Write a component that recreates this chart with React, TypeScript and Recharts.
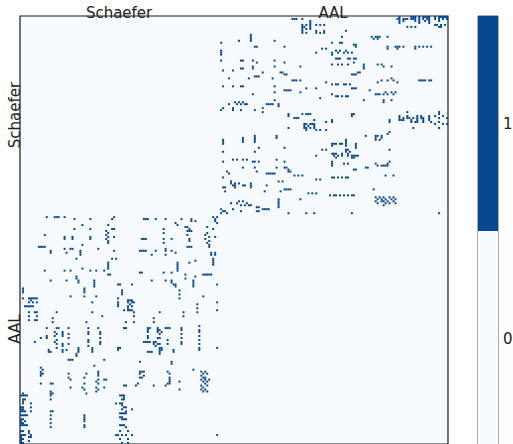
import {
  ScatterChart,
  Scatter,
  XAxis,
  YAxis,
  CartesianGrid,
  ReferenceArea,
  BarChart,
  Bar,
} from "recharts";

const SCHAEFER_N = 100;
const AAL_N = 116;
const N = SCHAEFER_N + AAL_N;

const blockLabels = ["Schaefer", "AAL"];
const blockCenters = [SCHAEFER_N / 2, SCHAEFER_N + AAL_N / 2];
const colorbarLevels = [0, 1];

// Schaefer parcel index -> AAL region indices it is linked to (0-based)
const schaeferLinks: [number, number[]][] = [
  [0, [91, 97, 98, 99, 101, 103, 104, 105, 106, 109, 111, 112, 113, 114, 115]],
  [1, [37, 38, 39, 42, 90, 91, 93, 94, 95, 97, 98, 99, 101, 103, 105, 106, 109, 111, 113, 115]],
  [2, [46, 91, 93, 99, 101, 104, 106, 111]],
  [3, [46, 91, 101, 106]],
  [4, [42, 44, 46, 49, 51, 53, 109, 110, 112, 114]],
  [5, [42, 43, 46, 95, 97, 99, 111, 112]],
  [6, [42, 44, 46]],
  [7, [42, 49, 53, 64]],
  [8, [42, 44, 49, 51, 53]],
  [9, [16]],
  [10, [16, 62, 77, 79, 80, 81, 85]],
  [11, [16, 78, 80]],
  [12, [10, 16, 28]],
  [13, [1, 57, 61, 62]],
  [14, [68, 69]],
  [15, [18, 19, 33, 69, 85, 89, 90, 91, 93, 99, 101, 103, 105, 107]],
  [16, [52, 54, 85, 90, 99]],
  [17, [1, 59, 61, 64]],
  [18, [1, 49, 57, 60, 63, 65, 67]],
  [19, [1, 57]],
  [21, [59, 60, 61, 65, 66, 68, 69]],
  [22, [1, 11, 12, 17, 28]],
  [23, [19, 33, 68]],
  [24, [57, 60, 62, 65, 73, 80, 82]],
  [25, [17, 28, 41, 73, 83, 87]],
  [26, [11, 12, 17, 73]],
  [27, [2, 7]],
  [28, [22, 31, 32, 70, 71]],
  [29, [33, 34, 67, 68, 69]],
  [30, [18, 19, 20]],
  [31, [5, 15, 27, 87]],
  [32, [37, 38, 39, 41, 82, 85, 88, 101, 102, 103, 104, 106, 107]],
  [33, [54, 80, 90]],
  [34, [57, 59, 60, 63, 64, 66]],
  [35, [2, 7, 11, 12, 28]],
  [36, [44, 49, 67, 68, 69]],
  [37, [33, 34, 35, 36, 76]],
  [38, [28, 41, 84, 87, 89]],
  [39, [17, 57, 79, 80, 81, 83, 85, 88]],
  [40, [59, 60, 62, 64, 65]],
  [41, [51]],
  [42, [28, 73, 83, 87]],
  [43, [8, 10, 12, 83]],
  [44, [5, 9, 11, 13, 14, 24, 25, 26, 27, 30]],
  [45, [30]],
  [46, [2, 7, 22]],
  [47, [1, 7, 11, 18]],
  [48, [22, 95, 111]],
  [49, [35, 42, 44, 45, 46, 67, 68, 111]],
  [50, [35, 67, 91, 95, 100, 102, 106, 109, 113]],
  [51, [38, 39, 40, 91, 93, 95, 96, 98, 100, 102, 103, 106, 111, 115]],
  [52, [48, 57, 86, 91, 92, 93, 97, 100, 103, 106]],
  [53, [54, 57, 86, 97, 99, 100, 103, 107, 111]],
  [54, [43, 44, 46, 47, 48, 109, 113, 115]],
  [55, [43, 45, 48]],
  [56, [35, 43, 44, 46, 48, 98, 111]],
  [57, [44, 49, 51, 54]],
  [58, [86]],
  [59, [85]],
  [60, [18, 29, 74, 79, 80, 82]],
  [61, [12, 18, 29, 79, 82]],
  [62, [2, 12, 18, 64, 79, 81]],
  [63, [2, 12, 18, 64]],
  [64, [2, 57, 58, 59, 61, 62, 64, 69]],
  [65, [57, 64, 69]],
  [66, [20, 33, 69]],
  [67, [52, 54, 64, 65, 86]],
  [68, [2, 18, 64, 66]],
  [69, [57, 58, 59, 62, 65]],
  [70, [49, 58, 60, 62, 65, 67, 68, 69, 70]],
  [71, [59, 67, 68]],
  [72, [7, 9, 12, 14, 29]],
  [73, [2, 17, 18, 20, 33, 57, 86]],
  [74, [57, 63, 65, 79, 85]],
  [75, [57, 80, 82, 83, 84, 85]],
  [76, [12, 18, 29, 33, 34, 74, 75]],
  [77, [35, 68, 69]],
  [78, [4, 19, 35, 36]],
  [79, [5, 24, 25, 26, 27, 28]],
  [80, [38, 40, 42, 84, 88]],
  [81, [2, 57, 58, 60, 62, 64, 65]],
  [82, [49, 51]],
  [83, [6, 30, 32]],
  [84, [6, 8, 10, 16]],
  [85, [7, 8, 12, 13, 16, 24]],
  [86, [2, 3, 8, 16]],
  [87, [33, 34, 35, 36, 78]],
  [88, [3, 23, 31]],
  [89, [45, 47, 49]],
  [90, [56, 58, 59, 61, 63, 65, 67, 68]],
  [91, [79, 81, 83, 86, 88]],
  [92, [30, 41, 80, 82, 84, 87, 89]],
  [93, [10, 12, 30, 79, 82, 83, 85, 88]],
  [94, [6, 9, 14, 30, 80, 84, 86, 89]],
  [95, [11, 13, 15, 16, 30, 83]],
  [96, [19, 20, 30]],
  [97, [1, 7, 22, 23, 24, 25]],
  [98, [2, 3, 11, 19, 20]],
  [99, [1, 4, 35, 44, 48, 67, 111]],
];

const LIGHT = "#f7fbff";
const DARK = "#08488f";
const TEXT = "#222";
const FONT = "DejaVu Sans, sans-serif";

const PLOT = 428;
const CELL = PLOT / N;

// symmetric matrix: Schaefer rows x AAL cols on top-right, transpose bottom-left
const cells = schaeferLinks.flatMap(([s, aals]) =>
  aals.flatMap((a) => [
    { x: SCHAEFER_N + a + 0.5, y: s + 0.5 },
    { x: s + 0.5, y: SCHAEFER_N + a + 0.5 },
  ]),
);

function labelFor(v: number) {
  const i = blockCenters.indexOf(v);
  return i >= 0 ? blockLabels[i] : "";
}

function TopTick({ x, y, payload }: any) {
  return (
    <text x={x} y={y + 2} textAnchor="middle" fontSize={15} fill={TEXT} fontFamily={FONT}>
      {labelFor(payload.value)}
    </text>
  );
}

function LeftTick({ x, y, payload }: any) {
  return (
    <text
      x={x}
      y={y}
      transform={`rotate(-90, ${x}, ${y})`}
      textAnchor="middle"
      fontSize={15}
      fill={TEXT}
      fontFamily={FONT}
    >
      {labelFor(payload.value)}
    </text>
  );
}

function CbTick({ x, y, payload }: any) {
  return (
    <text x={x} y={y} dy={5} textAnchor="start" fontSize={15} fill={TEXT} fontFamily={FONT}>
      {String(colorbarLevels[Math.floor(payload.value)])}
    </text>
  );
}

function CellShape({ cx, cy }: any) {
  return <rect x={cx - CELL / 2} y={cy - CELL / 2} width={CELL} height={CELL} fill={DARK} />;
}

const colorbarData = [{ name: "cb", zero: 1, one: 1 }];

function Colorbar() {
  return (
    <BarChart
      width={36}
      height={460}
      data={colorbarData}
      margin={{ top: 16, right: 0, bottom: 14, left: 1 }}
      barCategoryGap={0}
    >
      <XAxis dataKey="name" hide />
      <YAxis
        orientation="right"
        type="number"
        domain={[0, 2]}
        ticks={colorbarLevels.map((v) => v + 0.5)}
        width={15}
        tickLine={false}
        axisLine={false}
        tickSize={0}
        tickMargin={5}
        tick={<CbTick />}
      />
      <Bar dataKey="zero" stackId="c" fill={LIGHT} isAnimationActive={false} />
      <Bar dataKey="one" stackId="c" fill={DARK} isAnimationActive={false} />
      <ReferenceArea y1={0} y2={2} fill="none" stroke="#555" strokeWidth={1} />
    </BarChart>
  );
}

export default function App() {
  return (
    <div
      style={{
        position: "fixed",
        left: 0,
        top: 0,
        width: 513,
        height: 444,
        overflow: "hidden",
        background: "#fff",
      }}
    >
      <ScatterChart width={513} height={460} margin={{ top: 0, right: 65, bottom: 16, left: 0 }}>
        <CartesianGrid horizontal={false} vertical={false} fill={LIGHT} />
        <XAxis
          type="number"
          dataKey="x"
          orientation="top"
          domain={[0, N]}
          ticks={blockCenters}
          height={16}
          tickLine={false}
          axisLine={false}
          tickSize={0}
          tickMargin={0}
          tick={<TopTick />}
        />
        <YAxis
          type="number"
          dataKey="y"
          domain={[0, N]}
          reversed
          ticks={blockCenters}
          width={20}
          tickLine={false}
          axisLine={false}
          tickSize={0}
          tickMargin={0}
          tick={<LeftTick />}
        />
        <Scatter data={cells} shape={<CellShape />} isAnimationActive={false} />
        <ReferenceArea x1={0} x2={N} y1={0} y2={N} fill="none" stroke="#1a1a1a" strokeWidth={1.2} />
      </ScatterChart>
      <div style={{ position: "absolute", left: 477, top: 0 }}>
        <Colorbar />
      </div>
    </div>
  );
}
